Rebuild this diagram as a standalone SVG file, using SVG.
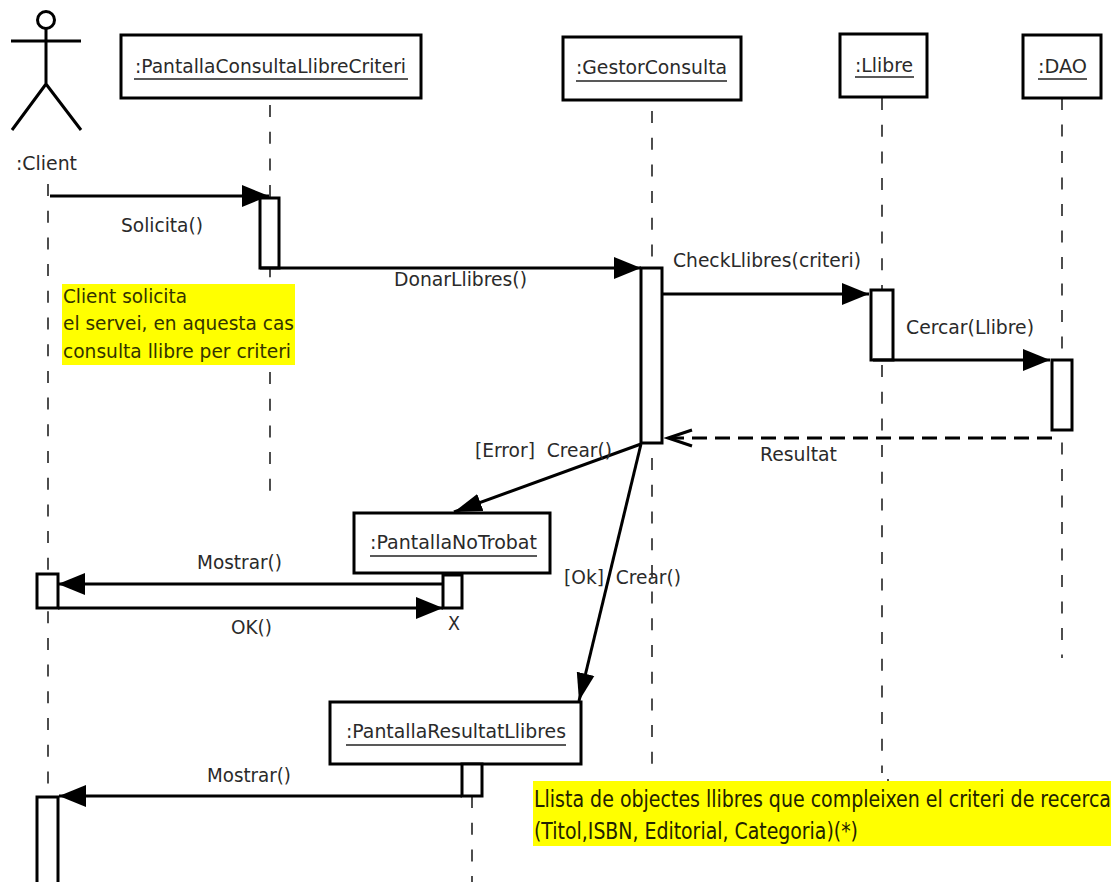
<svg xmlns="http://www.w3.org/2000/svg" width="1116" height="882" viewBox="0 0 1116 882">
<defs>
<marker id="solid" markerUnits="userSpaceOnUse" markerWidth="30" markerHeight="24" refX="27" refY="11" orient="auto"><path d="M0 0L27 11L0 22Z" fill="#000"/></marker>
<marker id="solid-d" markerUnits="userSpaceOnUse" markerWidth="30" markerHeight="24" refX="28" refY="11" orient="auto"><path d="M0 2L28 11L0 20Z" fill="#000"/></marker>
<marker id="open" markerUnits="userSpaceOnUse" markerWidth="30" markerHeight="24" refX="26" refY="11" orient="auto"><path d="M2 3L26 11L2 19" fill="none" stroke="#000" stroke-width="3"/></marker>
</defs>
<style>
text{font-family:"DejaVu Sans",sans-serif;font-size:19.6px;fill:#2a2a2a;white-space:pre}
.n1{font-size:20px;fill:#333300}
.n2{font-size:19px;fill:#222200}
.box{fill:#fff;stroke:#000;stroke-width:3}
.act{fill:#fff;stroke:#000;stroke-width:3}
.life{fill:none;stroke:#222;stroke-width:1.6;stroke-dasharray:12 14.7}
.msg{fill:none;stroke:#000;stroke-width:3}
.note{fill:#ffff00}
.ul{stroke:#222;stroke-width:1.3}
</style>
<rect width="1116" height="882" fill="#fff"/>
<g id="lifelines">
<path class="life" d="M48 184V790"/>
<path class="life" d="M270 105V496"/>
<path class="life" d="M652 111V772"/>
<path class="life" d="M882 98V773M888 779V782"/>
<path class="life" style="stroke-dasharray:12 14.5" d="M1062 98V658"/>
<path class="life" d="M472 796V882"/>
</g>
<g id="notes-bg">
<rect class="note" x="62" y="284" width="233" height="81"/>
<rect class="note" x="533" y="781" width="578" height="65"/>
</g>
<g id="client">
<circle cx="46" cy="20" r="8.5" fill="#fff" stroke="#000" stroke-width="3"/>
<path d="M46 29V84M11 41H81M46 84L12 130M46 84L81 130" fill="none" stroke="#000" stroke-width="3"/>
<text x="16" y="170" textLength="61" lengthAdjust="spacingAndGlyphs">:Client</text>
</g>
<g id="pantalla-consulta">
<rect class="box" x="121" y="35" width="300" height="63"/>
<text x="135" y="73" textLength="271" lengthAdjust="spacingAndGlyphs">:PantallaConsultaLlibreCriteri</text>
<line class="ul" x1="134" y1="79" x2="408" y2="79"/>
</g>
<g id="gestor-consulta">
<rect class="box" x="563" y="37" width="178" height="63"/>
<text x="576" y="74" textLength="151" lengthAdjust="spacingAndGlyphs">:GestorConsulta</text>
<line class="ul" x1="576" y1="81" x2="727" y2="81"/>
</g>
<g id="llibre">
<rect class="box" x="840" y="34" width="87" height="63"/>
<text x="855" y="72" textLength="58" lengthAdjust="spacingAndGlyphs">:Llibre</text>
<line class="ul" x1="855" y1="77" x2="914" y2="77"/>
</g>
<g id="dao">
<rect class="box" x="1023" y="35" width="78" height="63"/>
<text x="1038" y="73" textLength="49" lengthAdjust="spacingAndGlyphs">:DAO</text>
<line class="ul" x1="1038" y1="79" x2="1087" y2="79"/>
</g>
<g id="pantalla-no-trobat">
<rect class="box" x="354" y="513" width="196" height="60"/>
<text x="370" y="549" textLength="167" lengthAdjust="spacingAndGlyphs">:PantallaNoTrobat</text>
<line class="ul" x1="370" y1="556" x2="537" y2="556"/>
</g>
<g id="pantalla-resultat">
<rect class="box" x="330" y="702" width="251" height="62"/>
<text x="346" y="738" textLength="220" lengthAdjust="spacingAndGlyphs">:PantallaResultatLlibres</text>
<line class="ul" x1="346" y1="745" x2="566" y2="745"/>
</g>
<g id="activations">
<rect class="act" x="260" y="198" width="19" height="70"/>
<rect class="act" x="641" y="268" width="21" height="175"/>
<rect class="act" x="871" y="290" width="22" height="70"/>
<rect class="act" x="1052" y="360" width="20" height="70"/>
<rect class="act" x="443" y="575" width="19" height="33"/>
<rect class="act" x="37" y="574" width="21" height="34"/>
<rect class="act" x="462" y="764" width="20" height="32"/>
<rect class="act" x="37" y="797" width="21" height="90"/>
</g>
<g id="connectors">
<path class="msg" marker-end="url(#solid)" d="M50 196H269"/>
<path class="msg" marker-end="url(#solid)" d="M260 268H641"/>
<path class="msg" marker-end="url(#solid)" d="M662 294H869"/>
<path class="msg" marker-end="url(#solid)" d="M873 360H1050"/>
<path class="msg" marker-end="url(#open)" stroke-dasharray="15 8" d="M1052 438H668"/>
<path class="msg" marker-end="url(#solid-d)" d="M641 444L454 512"/>
<path class="msg" marker-end="url(#solid-d)" d="M641 444L579 701"/>
<path class="msg" marker-end="url(#solid)" d="M443 584H58"/>
<path class="msg" marker-end="url(#solid)" d="M58 608H443"/>
<path class="msg" marker-end="url(#solid)" d="M462 796H59"/>
</g>
<g id="labels">
<text x="121" y="232" textLength="82" lengthAdjust="spacingAndGlyphs">Solicita()</text>
<text x="394" y="286" textLength="133" lengthAdjust="spacingAndGlyphs">DonarLlibres()</text>
<text x="673" y="267" textLength="188" lengthAdjust="spacingAndGlyphs">CheckLlibres(criteri)</text>
<text x="906" y="334" textLength="128" lengthAdjust="spacingAndGlyphs">Cercar(Llibre)</text>
<text x="760" y="461" textLength="77" lengthAdjust="spacingAndGlyphs">Resultat</text>
<text x="475" y="457" textLength="137" lengthAdjust="spacingAndGlyphs">[Error]  Crear()</text>
<text x="564" y="584" textLength="117" lengthAdjust="spacingAndGlyphs">[Ok]  Crear()</text>
<text x="197" y="569" textLength="85" lengthAdjust="spacingAndGlyphs">Mostrar()</text>
<text x="231" y="634" textLength="41" lengthAdjust="spacingAndGlyphs">OK()</text>
<text x="448" y="630" textLength="12" lengthAdjust="spacingAndGlyphs">X</text>
<text x="207" y="782" textLength="84" lengthAdjust="spacingAndGlyphs">Mostrar()</text>
</g>
<g id="notes">
<text class="n1" x="63" y="303" textLength="124" lengthAdjust="spacingAndGlyphs">Client solicita</text>
<text class="n1" x="63" y="330" textLength="231" lengthAdjust="spacingAndGlyphs">el servei, en aquesta cas</text>
<text class="n1" x="63" y="358" textLength="228" lengthAdjust="spacingAndGlyphs">consulta llibre per criteri</text>
<text class="n2" transform="translate(534 807) scale(1 1.2)" textLength="577" lengthAdjust="spacingAndGlyphs">Llista de objectes llibres que compleixen el criteri de recerca</text>
<text class="n2" transform="translate(534 839) scale(1 1.2)" textLength="324" lengthAdjust="spacingAndGlyphs">(Titol,ISBN, Editorial, Categoria)(*)</text>
</g>
</svg>
